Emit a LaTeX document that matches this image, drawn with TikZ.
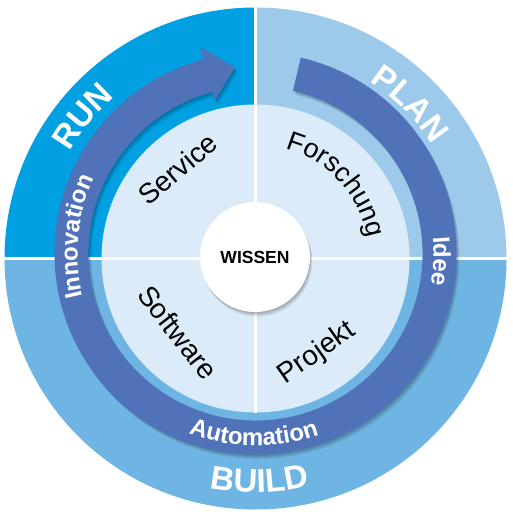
\documentclass[tikz,border=0pt]{standalone}
\usepackage{fontspec}
\setmainfont{Liberation Sans}
\usetikzlibrary{decorations.text}
\definecolor{runblue}{RGB}{0,160,227}
\definecolor{planblue}{RGB}{157,201,235}
\definecolor{buildblue}{RGB}{111,181,227}
\definecolor{innerlight}{RGB}{220,235,249}
\definecolor{bandblue}{RGB}{80,114,185}
\begin{document}
\begin{tikzpicture}[x=1bp,y=1bp,
  bandtext/.style={decorate,decoration={text along path,text align=center,text color=white,
      text={|\fontsize{24bp}{24bp}\selectfont\bfseries|#1}}},
  ringtext/.style={decorate,decoration={text along path,text align=center,text color=white,
      text={|\fontsize{33bp}{33bp}\selectfont\bfseries|#1}}},
  curvedinner/.style={decorate,decoration={text along path,text align=center,text color=black,
      text={|\fontsize{27bp}{27bp}\selectfont|#1}}},
  innerlabel/.style={inner sep=0pt,font=\fontsize{28bp}{28bp}\selectfont,text=black},
  divider/.style={white,line width=3bp}]
\useasboundingbox (-255.5,-258.5) rectangle (257.5,258.5);
% outer quadrants
\fill[runblue] (0,0) -- (180:251bp) arc[start angle=180,end angle=90,radius=251bp] -- cycle;
\fill[planblue] (0,0) -- (90:251bp) arc[start angle=90,end angle=0,radius=251bp] -- cycle;
\fill[buildblue] (0,0) -- (0:251bp) arc[start angle=0,end angle=-180,radius=251bp] -- cycle;
% inner disk
\fill[innerlight] (0,0) circle[radius=154bp];
\draw[divider] (-251,0) -- (251,0);
\draw[divider] (0,251) -- (0,-154);
% arrow band
\begin{scope}[shift={(0,5)}]
\def\bandpath{(77:201bp) arc[start angle=77,end angle=-255,radius=201bp] -- (-255:214bp) -- (-263.7:187bp) -- (-255:158bp) -- (-255:167bp) arc[start angle=-255,end angle=77,radius=167bp] -- cycle}
\fill[black,opacity=0.10,shift={(1bp,-1.5bp)}] \bandpath;
\fill[black,opacity=0.10,shift={(2bp,-3bp)}] \bandpath;
\fill[black,opacity=0.08,shift={(3bp,-4.5bp)}] \bandpath;
\fill[bandblue] \bandpath;
\path[bandtext=Innovation] (215:178bp) arc[start angle=215,end angle=134,radius=178bp];
\path[bandtext=Idee] (40:178bp) arc[start angle=40,end angle=-45,radius=178bp];
\path[bandtext=Automation] (-130:192bp) arc[start angle=-130,end angle=-51,radius=192bp];
\end{scope}
% centre circle
\fill[black,opacity=0.08] (0.1,0.3) circle[radius=55bp];
\fill[black,opacity=0.08] (0.7,-0.9) circle[radius=55bp];
\fill[black,opacity=0.08] (1.3,-2.1) circle[radius=55bp];
\fill[black,opacity=0.06] (1.9,-3.3) circle[radius=55bp];
\node[circle,fill=white,minimum size=110bp,inner sep=0pt,font=\fontsize{17.5bp}{17.5bp}\selectfont\bfseries] (wissen) at (-0.5,1.5) {WISSEN};
% ring labels
\path[ringtext=RUN] (175:214bp) arc[start angle=175,end angle=106,radius=214bp];
\path[ringtext=PLAN] (80:210bp) arc[start angle=80,end angle=10,radius=210bp];
\path[ringtext=BUILD] (-125:234bp) arc[start angle=-125,end angle=-53,radius=234bp];
% inner labels
\path[curvedinner=Forschung] (100:114bp) arc[start angle=100,end angle=-15,radius=114bp];
\node[innerlabel,rotate=40] (service) at (-78,90) {Service};
\node[innerlabel,rotate=-52] (software) at (-77.5,-74) {Software};
\node[innerlabel,rotate=35] (projekt) at (61.5,-95) {Projekt};
\end{tikzpicture}
\end{document}
